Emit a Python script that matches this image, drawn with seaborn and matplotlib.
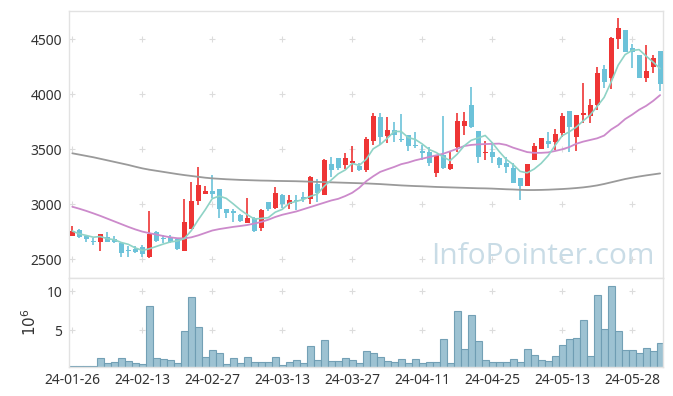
import numpy as np
import pandas as pd
import matplotlib
matplotlib.use("Agg")
import matplotlib.pyplot as plt
import seaborn as sns

# ---------------- data ----------------
opens = [2715, 2766, 2712, 2669, 2654, 2703, 2685, 2651, 2581, 2590,
         2609, 2521, 2748, 2694, 2700, 2682, 2579, 2775, 3033, 3097,
         3122, 3136, 2955, 2939, 2903, 2833, 2878, 2782, 3021, 2969,
         3085, 3003, 3039, 3063, 3045, 3185, 3085, 3366, 3418, 3357,
         3379, 3348, 3312, 3579, 3791, 3621, 3676, 3594, 3630, 3539,
         3488, 3479, 3288, 3448, 3318, 3524, 3715, 3903, 3666, 3463,
         3478, 3418, 3378, 3333, 3242, 3169, 3403, 3500, 3576, 3570,
         3651, 3848, 3615, 3809, 3803, 3903, 4227, 4145, 4500, 4584,
         4418, 4357, 4145, 4251, 4393]
highs = [2800, 2778, 2721, 2694, 2730, 2748, 2712, 2660, 2621, 2621,
         2627, 2936, 2757, 2724, 2721, 2697, 3045, 3200, 3342, 3166,
         3265, 3140, 2960, 2957, 2915, 3060, 2885, 2960, 3025, 3154,
         3090, 3085, 3085, 3115, 3257, 3233, 3412, 3427, 3418, 3469,
         3530, 3379, 3609, 3827, 3827, 3791, 3751, 3821, 3630, 3660,
         3539, 3524, 3448, 3803, 3479, 3827, 3842, 4063, 3666, 3580,
         3569, 3433, 3433, 3372, 3242, 3366, 3554, 3600, 3660, 3685,
         3833, 3848, 3812, 4100, 3954, 4251, 4266, 4518, 4690, 4584,
         4454, 4357, 4448, 4357, 4393]
lows = [2710, 2690, 2657, 2633, 2572, 2660, 2651, 2518, 2524, 2560,
        2524, 2509, 2657, 2651, 2651, 2585, 2579, 2775, 2994, 3091,
        3055, 2873, 2873, 2842, 2842, 2827, 2750, 2760, 2935, 2960,
        2963, 2954, 2948, 3024, 3003, 3024, 3085, 3251, 3312, 3318,
        3297, 3306, 3291, 3539, 3539, 3554, 3569, 3569, 3488, 3509,
        3403, 3348, 3251, 3318, 3312, 3479, 3630, 3691, 3372, 3400,
        3378, 3327, 3281, 3197, 3039, 3169, 3403, 3500, 3509, 3494,
        3609, 3479, 3488, 3736, 3742, 3857, 4054, 4048, 4408, 4387,
        4236, 4151, 4115, 4190, 4030]
closes = [2757, 2706, 2688, 2654, 2730, 2660, 2660, 2560, 2572, 2566,
          2548, 2733, 2666, 2682, 2660, 2594, 2839, 3030, 3175, 3118,
          3098, 2955, 2924, 2924, 2851, 2875, 2760, 2948, 2960, 3100,
          3003, 3039, 3033, 3045, 3245, 3100, 3403, 3312, 3327, 3421,
          3397, 3312, 3591, 3803, 3615, 3676, 3630, 3585, 3530, 3530,
          3469, 3379, 3448, 3327, 3366, 3760, 3757, 3700, 3433, 3480,
          3433, 3357, 3342, 3197, 3169, 3366, 3530, 3600, 3545, 3639,
          3803, 3706, 3812, 3833, 3903, 4197, 4115, 4508, 4599, 4387,
          4387, 4151, 4215, 4327, 4090]
ma20 = [2978, 2960, 2940, 2918, 2895, 2870, 2845, 2820, 2795, 2772,
        2752, 2738, 2725, 2712, 2700, 2692, 2690, 2700, 2718, 2740,
        2762, 2775, 2785, 2795, 2803, 2812, 2825, 2840, 2860, 2885,
        2905, 2920, 2935, 2955, 2975, 2995, 3015, 3035, 3050, 3075,
        3105, 3150, 3210, 3255, 3295, 3318, 3340, 3365, 3380, 3400,
        3415, 3430, 3445, 3460, 3482, 3505, 3530, 3540, 3545, 3548,
        3550, 3552, 3540, 3515, 3495, 3475, 3468, 3468, 3472, 3485,
        3500, 3520, 3550, 3570, 3585, 3600, 3625, 3680, 3720, 3775,
        3815, 3860, 3895, 3940, 3993]
ma60 = [3464, 3452, 3440, 3428, 3414, 3400, 3386, 3372, 3358, 3342,
        3327, 3315, 3305, 3295, 3285, 3275, 3266, 3258, 3250, 3242,
        3236, 3232, 3228, 3225, 3222, 3220, 3218, 3216, 3215, 3213,
        3212, 3211, 3210, 3208, 3206, 3204, 3202, 3200, 3198, 3196,
        3194, 3192, 3190, 3187, 3184, 3180, 3176, 3172, 3169, 3166,
        3164, 3161, 3158, 3156, 3154, 3152, 3150, 3148, 3146, 3145,
        3143, 3140, 3137, 3135, 3132, 3130, 3130, 3131, 3133, 3136,
        3139, 3143, 3148, 3154, 3162, 3172, 3185, 3200, 3215, 3230,
        3242, 3253, 3263, 3272, 3281]
volume_m = [0.43, 0.43, 0.43, 0.43, 1.37, 0.73, 0.85, 1.37, 1.03, 0.73,
            0.60, 8.08, 1.37, 1.24, 1.11, 0.73, 4.83, 9.19, 5.34, 1.50,
            2.39, 2.00, 0.60, 1.37, 0.73, 1.50, 0.85, 0.85, 0.85, 1.50,
            0.47, 0.85, 1.11, 0.73, 2.90, 1.11, 3.68, 0.98, 0.98, 1.37,
            1.11, 0.73, 2.26, 2.00, 1.50, 0.98, 0.85, 1.24, 0.73, 1.24,
            0.73, 0.85, 0.85, 3.80, 0.73, 7.39, 2.52, 6.88, 3.55, 1.11,
            0.85, 0.85, 0.85, 1.24, 0.85, 2.52, 1.75, 1.11, 0.98, 1.62,
            3.03, 3.80, 3.93, 6.24, 1.62, 9.44, 5.09, 10.60, 4.83, 2.39,
            2.39, 2.00, 2.65, 2.26, 3.29]
tick_labels = ['24-01-26', '24-02-13', '24-02-27', '24-03-13', '24-03-27',
               '24-04-11', '24-04-25', '24-05-13', '24-05-28']
price_ticks = [2500, 3000, 3500, 4000, 4500]
volume_ticks = [5, 10]

# ---------------- style ----------------
sns.set_style("white")
plt.rcParams['font.family'] = ['Noto Sans', 'DejaVu Sans']

UP = '#ee3535'
DOWN = '#6cc2d9'
MA5_C = '#8fd3c6'
MA20_C = '#cc8acb'
MA60_C = '#9a9a9a'
SPINE = '#e2e2e2'
TXT = '#333333'

n = len(closes)
df = pd.DataFrame({'i': np.arange(n), 'open': opens, 'high': highs,
                   'low': lows, 'close': closes, 'ma20': ma20,
                   'ma60': ma60, 'vol': volume_m})
df['ma5'] = df['close'].rolling(5, min_periods=1).mean()
df['up'] = df['close'] >= df['open']

fig = plt.figure(figsize=(6.73, 3.96), dpi=100)
ax = fig.add_axes([0.103, 0.2982, 0.882, 0.6747])
axv = fig.add_axes([0.103, 0.0725, 0.882, 0.2255])

xlim = (-0.43, 84.4)

# candles
cols = np.where(df['up'], UP, DOWN)
ax.vlines(df['i'], df['low'], df['high'], colors=cols, linewidth=1.2, zorder=2)
body = (df['close'] - df['open']).abs().clip(lower=6)
ax.bar(df['i'], body, bottom=df[['open', 'close']].min(axis=1), width=0.72,
       color=cols, linewidth=0, zorder=3)

# moving averages
sns.lineplot(data=df, x='i', y='ma60', ax=ax, color=MA60_C, linewidth=1.3, zorder=4)
sns.lineplot(data=df, x='i', y='ma20', ax=ax, color=MA20_C, linewidth=1.3, zorder=4)
sns.lineplot(data=df, x='i', y='ma5', ax=ax, color=MA5_C, linewidth=1.2, zorder=4)

ax.set_xlim(*xlim)
ax.set_ylim(2331, 4760)
ax.set_xticks(range(0, n, 10))
ax.set_xticklabels([])
ax.set_yticks(price_ticks)
ax.set_yticklabels([str(v) for v in price_ticks])
ax.set_xlabel('')
ax.set_ylabel('')

# watermark
ax.text(0.986, 0.025, 'InfoPointer.com', transform=ax.transAxes, ha='right',
        va='bottom', fontsize=21.5, color='#c9dce6', family=['Open Sans', 'DejaVu Sans'],
        zorder=1)

# volume
sns.barplot(data=df, x='i', y='vol', ax=axv, native_scale=True, width=1.0,
            color='#98bfd0', edgecolor='#6e9db3', linewidth=0.8, saturation=1,
            alpha=0.95, zorder=2)
axv.set_xlim(*xlim)
axv.set_ylim(0.22, 11.67)
axv.set_xticks(range(0, n, 10))
axv.set_xticklabels(tick_labels)
axv.set_yticks(volume_ticks)
axv.set_yticklabels([str(v) for v in volume_ticks])
axv.set_xlabel('')
axv.set_ylabel(r'$10^6$', fontsize=11, color=TXT, labelpad=5)

for a, yt in ((ax, price_ticks), (axv, volume_ticks)):
    gx, gy = np.meshgrid(range(0, n, 10), yt)
    a.scatter(gx.ravel(), gy.ravel(), marker='+', s=22, color='#dcdcdc',
              linewidths=0.8, zorder=0)
    for s in a.spines.values():
        s.set_color(SPINE)
        s.set_linewidth(1.0)
    a.tick_params(length=0, labelsize=10, labelcolor=TXT, pad=5)
    a.grid(False)
    a.set_facecolor('white')
axv.tick_params(axis='x', pad=4)

fig.savefig('out.png', dpi=100)
